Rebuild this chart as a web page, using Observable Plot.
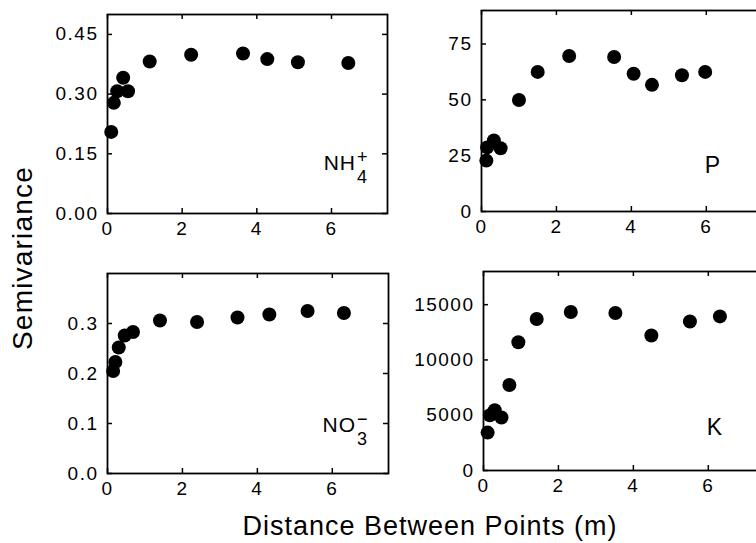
<!DOCTYPE html>
<html><head><meta charset="utf-8">
<script src="https://cdn.jsdelivr.net/npm/d3@7"></script>
<script src="https://cdn.jsdelivr.net/npm/@observablehq/plot@0.6"></script>
<style>
html,body{margin:0;padding:0;background:#fff;overflow:hidden;}
#fig{position:relative;width:756px;height:543px;overflow:hidden;background:#fff;}
#fig svg.panel{position:absolute;}
#overlay{position:absolute;left:0;top:0;pointer-events:none;}
</style></head><body><div id="fig"></div>
<script>
// Distance between points (m) and semivariance values
const nh4X = [0.10, 0.17, 0.26, 0.42, 0.55, 1.13, 2.24, 3.63, 4.28, 5.10, 6.45];
const nh4Y = [0.205, 0.278, 0.307, 0.341, 0.307, 0.382, 0.399, 0.402, 0.388, 0.380, 0.378];
const pX = [0.13, 0.15, 0.33, 0.51, 1.00, 1.50, 2.34, 3.54, 4.06, 4.55, 5.35, 5.97];
const pY = [22.8, 28.7, 31.8, 28.3, 49.9, 62.5, 69.6, 69.2, 61.7, 56.7, 61.0, 62.5];
const no3X = [0.15, 0.21, 0.30, 0.46, 0.68, 1.40, 2.39, 3.47, 4.32, 5.34, 6.31];
const no3Y = [0.205, 0.223, 0.252, 0.276, 0.283, 0.306, 0.303, 0.312, 0.318, 0.325, 0.321];
const kX = [0.11, 0.17, 0.30, 0.48, 0.69, 0.93, 1.42, 2.33, 3.52, 4.48, 5.51, 6.31];
const kY = [3430, 5000, 5450, 4790, 7730, 11600, 13700, 14330, 14240, 12210, 13480, 13940];

const xTicks = [0, 2, 4, 6];
const nh4Ticks = [0, 0.15, 0.30, 0.45];
const pTicks = [0, 25, 50, 75];
const no3Ticks = [0, 0.1, 0.2, 0.3];
const kTicks = [0, 5000, 10000, 15000];

const xTitle = "Distance Between Points (m)";
const yTitle = "Semivariance";

const FONT = '"Liberation Sans", Arial, Helvetica, sans-serif';
const fig = document.getElementById("fig");

function panel({xs, ys, yDomain, yTicks, fmt, left, top, width, height, ml, mr, mt, mb}) {
  const data = xs.map((x, i) => ({x, y: ys[i]}));
  const ih = height - mt - mb;
  const iw = width - ml - mr;
  const tl = 5;
  const chart = Plot.plot({
    width, height,
    marginLeft: ml, marginRight: mr, marginTop: mt, marginBottom: mb,
    style: {fontFamily: FONT, fontSize: "19px", letterSpacing: "1.5px", color: "black", background: "transparent", overflow: "visible"},
    x: {domain: [0, 7.5], ticks: xTicks, tickFormat: d => String(d), tickSize: 0, tickPadding: 8, label: null},
    y: {domain: yDomain, ticks: yTicks, tickFormat: fmt, tickSize: 0, tickPadding: 9, label: null},
    marks: [
      Plot.tickX(xTicks, {x: d => d, insetTop: ih - tl, stroke: "black", strokeWidth: 1.5}),
      Plot.tickX(xTicks, {x: d => d, insetBottom: ih - tl, stroke: "black", strokeWidth: 1.5}),
      Plot.tickY(yTicks, {y: d => d, insetRight: iw - tl, stroke: "black", strokeWidth: 1.5}),
      Plot.tickY(yTicks, {y: d => d, insetLeft: iw - tl, stroke: "black", strokeWidth: 1.5}),
      Plot.frame({stroke: "black", strokeWidth: 1.8}),
      Plot.dot(data, {x: "x", y: "y", r: 7, fill: "black", stroke: null})
    ]
  });
  chart.classList.add("panel");
  chart.style.left = left + "px";
  chart.style.top = top + "px";
  fig.appendChild(chart);
}

panel({xs: nh4X, ys: nh4Y, yDomain: [0, 0.5], yTicks: nh4Ticks, fmt: d => d.toFixed(2),
  left: 0, top: 0, width: 395, height: 245, ml: 107, mr: 8, mt: 14, mb: 32});
panel({xs: pX, ys: pY, yDomain: [0, 90], yTicks: pTicks, fmt: d => String(d),
  left: 390, top: 0, width: 380, height: 245, ml: 91, mr: 8, mt: 10, mb: 34});
panel({xs: no3X, ys: no3Y, yDomain: [0, 0.4], yTicks: no3Ticks, fmt: d => d.toFixed(1),
  left: 0, top: 250, width: 395, height: 250, ml: 107, mr: 7, mt: 23, mb: 27});
panel({xs: kX, ys: kY, yDomain: [0, 18000], yTicks: kTicks, fmt: d => String(d),
  left: 390, top: 250, width: 380, height: 250, ml: 93, mr: 6, mt: 21, mb: 30});

// overlay: panel labels and axis titles
const svg = d3.select(fig).append("svg").attr("id", "overlay")
  .attr("width", 756).attr("height", 543)
  .attr("font-family", FONT).attr("fill", "black");

function label(x, y, main, sub, sup, size) {
  svg.append("text").attr("x", x).attr("y", y).attr("text-anchor", "end")
    .attr("font-size", size).attr("letter-spacing", "1px").text(main);
  if (sub) svg.append("text").attr("x", x + 1).attr("y", y + 13).attr("font-size", 18).text(sub);
  if (sup) svg.append("text").attr("x", x + 1).attr("y", y - 7).attr("font-size", 18).text(sup);
}
label(356, 170, "NH", "4", "+", 21);
label(721, 173, "P", null, null, 23);
label(356, 432, "NO", "3", "\u2212", 21);
label(723, 435, "K", null, null, 23);

svg.append("text").attr("transform", "translate(32,258) rotate(-90)")
  .attr("text-anchor", "middle").attr("font-size", 28).attr("letter-spacing", "1.2px").text(yTitle);
svg.append("text").attr("x", 430).attr("y", 535)
  .attr("text-anchor", "middle").attr("font-size", 27).attr("letter-spacing", "1px").text(xTitle);
</script>
</body></html>
